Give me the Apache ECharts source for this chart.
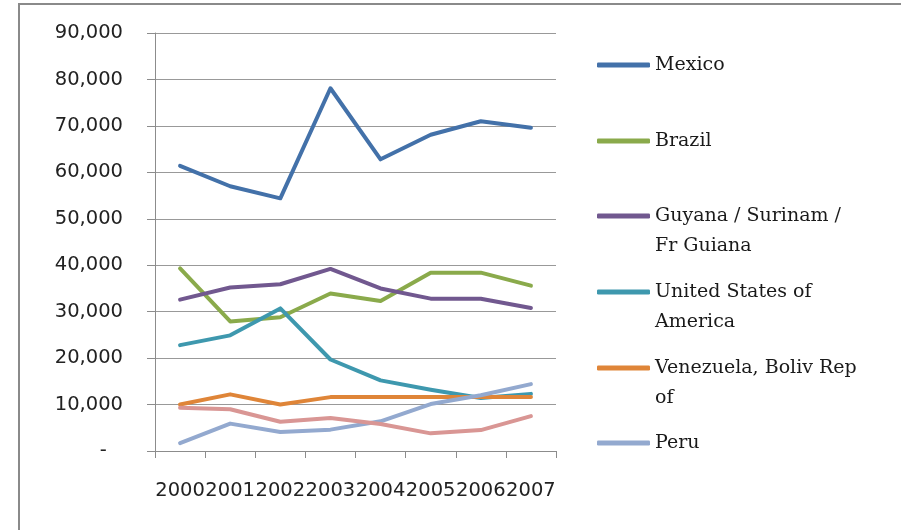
<!DOCTYPE html>
<html>
<head>
<meta charset="utf-8">
<script src="https://cdn.jsdelivr.net/npm/echarts@6/dist/echarts.min.js"></script>
<style>
html,body{margin:0;padding:0;background:#fff;}
#chart{width:901px;height:530px;}
</style>
</head>
<body>
<div id="chart"></div>
<script>
var years = ['2000','2001','2002','2003','2004','2005','2006','2007'];

var mexico    = [61400, 57000, 54400, 78100, 62800, 68100, 71000, 69600];
var brazil    = [39300, 27900, 28800, 33900, 32300, 38400, 38400, 35600];
var guyana    = [32600, 35200, 35900, 39200, 35000, 32800, 32800, 30800];
var usa       = [22800, 24900, 30700, 19700, 15200, 13200, 11400, 12300];
var venezuela = [10000, 12200, 10000, 11600, 11600, 11600, 11600, 11600];
var peru      = [1700, 5900, 4100, 4600, 6400, 10100, 12000, 14400];
var other     = [9300, 9000, 6300, 7100, 5800, 3800, 4500, 7500];

var names = ['Mexico', 'Brazil', 'Guyana / Surinam / Fr Guiana', 'United States of America', 'Venezuela, Boliv Rep of', 'Peru', 'Other'];
var legendLabels = ['Mexico', 'Brazil', '\nGuyana / Surinam /\nFr Guiana', '\nUnited States of\nAmerica', '\nVenezuela, Boliv Rep\nof', 'Peru'];
var colors = ['#4371A9', '#8AAA4B', '#71588F', '#3E98AE', '#DF8538', '#93A9CF', '#D99694'];

var chart = echarts.init(document.getElementById('chart'));

function makeSeries(name, data, color){
	return {
		name: name,
		type: 'line',
		data: data,
		showSymbol: false,
		symbol: 'none',
		color: color,
		lineStyle: {width: 4, color: color, cap: 'round', join: 'round'}
	};
}

//图例位置
var legendCenters = [65, 141, 216, 292, 368, 443];
var legends = [];
for(var i = 0; i < 6; i++){
	var multi = legendLabels[i].indexOf('\n') >= 0;
	legends.push({
		data: [names[i]],
		left: 597,
		top: legendCenters[i] - (multi ? 45 : 15),
		orient: 'vertical',
		padding: 0,
		icon: 'roundRect',
		itemWidth: 53,
		itemHeight: 5,
		selectedMode: false,
		formatter: (function(idx){ return function(){ return legendLabels[idx]; }; })(i),
		textStyle: {
			fontFamily: 'DejaVu Serif',
			fontSize: 19,
			color: '#1a1a1a',
			lineHeight: 30
		}
	});
}

var option = {
	animation: false,
	backgroundColor: '#fff',
	graphic: [{
		type: 'rect',
		shape: {x: 19, y: 4, width: 900, height: 540},
		style: {fill: 'none', stroke: '#8a8a8a', lineWidth: 2},
		silent: true
	}],
	legend: legends,
	grid: {left: 155, top: 33, right: 345, bottom: 79},
	xAxis: {
		type: 'category',
		data: years,
		boundaryGap: true,
		axisLine: {lineStyle: {color: '#8c8c8c', width: 1}},
		axisTick: {show: true, length: 7, lineStyle: {color: '#8c8c8c'}},
		axisLabel: {
			interval: 0,
			margin: 30,
			fontFamily: 'DejaVu Sans',
			fontSize: 19.5,
			color: '#222'
		},
		splitLine: {show: false}
	},
	yAxis: {
		type: 'value',
		min: 0,
		max: 90000,
		interval: 10000,
		axisLine: {show: true, lineStyle: {color: '#8c8c8c', width: 1}},
		axisTick: {show: true, length: 8, lineStyle: {color: '#8c8c8c'}},
		axisLabel: {
			margin: 32,
			fontFamily: 'DejaVu Sans',
			fontSize: 19.5,
			color: '#222',
			formatter: function(v){
				if(v === 0) return '-\u2007\u2009';
				return v.toLocaleString('en-US');
			}
		},
		splitLine: {show: true, lineStyle: {color: '#999', width: 1}}
	},
	series: [
		makeSeries(names[0], mexico, colors[0]),
		makeSeries(names[1], brazil, colors[1]),
		makeSeries(names[2], guyana, colors[2]),
		makeSeries(names[3], usa, colors[3]),
		makeSeries(names[4], venezuela, colors[4]),
		makeSeries(names[5], peru, colors[5]),
		makeSeries(names[6], other, colors[6])
	]
};
chart.setOption(option);
</script>
</body>
</html>
